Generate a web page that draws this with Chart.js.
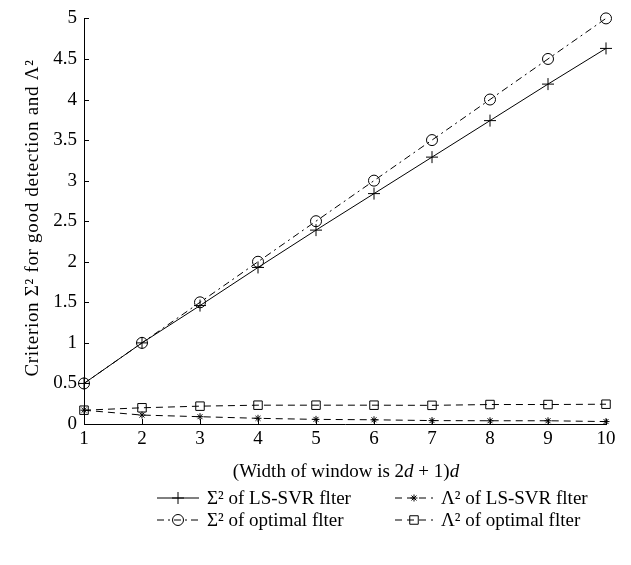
<!DOCTYPE html>
<html>
<head>
<meta charset="utf-8">
<script src="https://cdn.jsdelivr.net/npm/chart.js@4.4.0/dist/chart.umd.min.js"></script>
<style>
  body { margin: 0; background: white; }
  #wrap { width: 631px; height: 565px; }
</style>
</head>
<body>
<div id="wrap"><canvas id="myChart"></canvas></div>
<script>
const widths = [1, 2, 3, 4, 5, 6, 7, 8, 9, 10]
const sigmaSvr = [0.5, 1.0, 1.46, 1.93, 2.39, 2.84, 3.29, 3.74, 4.19, 4.63]
const sigmaOpt = [0.5, 1.0, 1.5, 2.0, 2.5, 3.0, 3.5, 4.0, 4.5, 5.0]
const lambdaSvr = [0.17, 0.11, 0.09, 0.07, 0.057, 0.052, 0.042, 0.04, 0.04, 0.03]
const lambdaOpt = [0.17, 0.2, 0.22, 0.232, 0.232, 0.232, 0.23, 0.24, 0.24, 0.244]
const yTicks = [0, 0.5, 1, 1.5, 2, 2.5, 3, 3.5, 4, 4.5, 5]

const serif = "'Liberation Serif', 'DejaVu Serif', serif"
const pts = (arr)=> arr.map((v, i)=>({x: widths[i], y: v}))

const series = [
  {label: 'Σ² of LS-SVR flter', data: pts(sigmaSvr), dash: [], style: 'cross', r: 6},
  {label: 'Σ² of optimal flter', data: pts(sigmaOpt), dash: [7, 4, 2, 4], style: 'circle', r: 5.5},
  {label: 'Λ² of LS-SVR flter', data: pts(lambdaSvr), dash: [7, 5], style: 'star', r: 3.5},
  {label: 'Λ² of optimal flter', data: pts(lambdaOpt), dash: [7, 5], style: 'rect', r: 6}
]

// inward ticks, axis titles and the legend drawn by hand
const extras = {
  id: 'extras',
  afterDraw(chart){
    const ctx = chart.ctx
    const xs = chart.scales.x, ys = chart.scales.y
    const a = chart.chartArea
    ctx.save()
    ctx.strokeStyle = 'black'
    ctx.lineWidth = 1
    ctx.setLineDash([])
    ctx.beginPath()
    widths.forEach(w=>{
      const px = Math.round(xs.getPixelForValue(w)) + 0.5
      ctx.moveTo(px, a.bottom); ctx.lineTo(px, a.bottom - 5)
    })
    yTicks.forEach(v=>{
      const py = Math.round(ys.getPixelForValue(v)) + 0.5
      ctx.moveTo(a.left, py); ctx.lineTo(a.left + 5, py)
    })
    ctx.stroke()

    ctx.fillStyle = 'black'
    ctx.textBaseline = 'alphabetic'
    // x title with italic d
    const parts = [['(Width of window is 2', ''], ['d', 'italic '], [' + 1)', ''], ['d', 'italic ']]
    let total = 0
    parts.forEach(p=>{ ctx.font = p[1] + '19px ' + serif; total += ctx.measureText(p[0]).width })
    let cx = 346 - total / 2
    ctx.textAlign = 'left'
    parts.forEach(p=>{
      ctx.font = p[1] + '19px ' + serif
      ctx.fillText(p[0], cx, 477)
      cx += ctx.measureText(p[0]).width
    })

    // y title
    ctx.save()
    ctx.translate(38, 218)
    ctx.rotate(-Math.PI / 2)
    ctx.textAlign = 'center'
    ctx.font = '19px ' + serif
    ctx.letterSpacing = '0.7px'
    ctx.fillText('Criterion Σ² for good detection and Λ²', 0, 0)
    ctx.restore()

    // legend
    const spots = [[157, 498], [157, 520], [395, 498], [395, 520]]
    series.forEach((s, i)=>{
      const [lx, ly] = spots[i]
      const len = i < 2 ? 42 : 38
      ctx.strokeStyle = 'black'
      ctx.setLineDash(s.dash)
      ctx.beginPath()
      ctx.moveTo(lx, ly); ctx.lineTo(lx + len, ly)
      ctx.stroke()
      ctx.setLineDash([])
      ctx.fillStyle = 'rgba(0,0,0,0)'
      Chart.helpers.drawPoint(ctx, {pointStyle: s.style, radius: s.r, borderWidth: 1, rotation: 0}, lx + len / 2, ly)
      ctx.fillStyle = 'black'
      ctx.font = '19px ' + serif
      ctx.textAlign = 'left'
      ctx.textBaseline = 'middle'
      ctx.fillText(s.label, lx + len + 8, ly + 1)
    })
    ctx.restore()
  }
}

new Chart('myChart', {
  type: 'line',
  data: {
    datasets: series.map(s=>({
      label: s.label,
      data: s.data,
      borderColor: 'black',
      borderWidth: 1,
      borderDash: s.dash,
      pointStyle: s.style,
      pointRadius: s.r,
      pointBorderColor: 'black',
      pointBackgroundColor: 'rgba(0,0,0,0)',
      pointBorderWidth: 1,
      fill: false,
      clip: false,
      tension: 0
    }))
  },
  options: {
    responsive: true,
    maintainAspectRatio: false,
    animation: false,
    layout: {padding: {top: 14, right: 25, left: 0, bottom: 0}},
    plugins: {legend: {display: false}, tooltip: {enabled: false}},
    scales: {
      x: {
        type: 'linear', min: 1, max: 10,
        afterFit: (s)=>{ s.height = 141 },
        afterBuildTicks: (s)=>{ s.ticks = widths.map(v=>({value: v})) },
        grid: {display: false, drawTicks: false},
        border: {display: true, color: 'black', width: 1},
        ticks: {color: 'black', font: {family: serif, size: 19}, padding: 4, maxRotation: 0}
      },
      y: {
        min: 0, max: 5,
        afterFit: (s)=>{ s.width = 84 },
        afterBuildTicks: (s)=>{ s.ticks = yTicks.map(v=>({value: v})) },
        grid: {display: false, drawTicks: false},
        border: {display: true, color: 'black', width: 1},
        ticks: {color: 'black', font: {family: serif, size: 19}, padding: 7, callback: (v)=> String(v)}
      }
    }
  },
  plugins: [extras]
})
</script>
</body>
</html>
